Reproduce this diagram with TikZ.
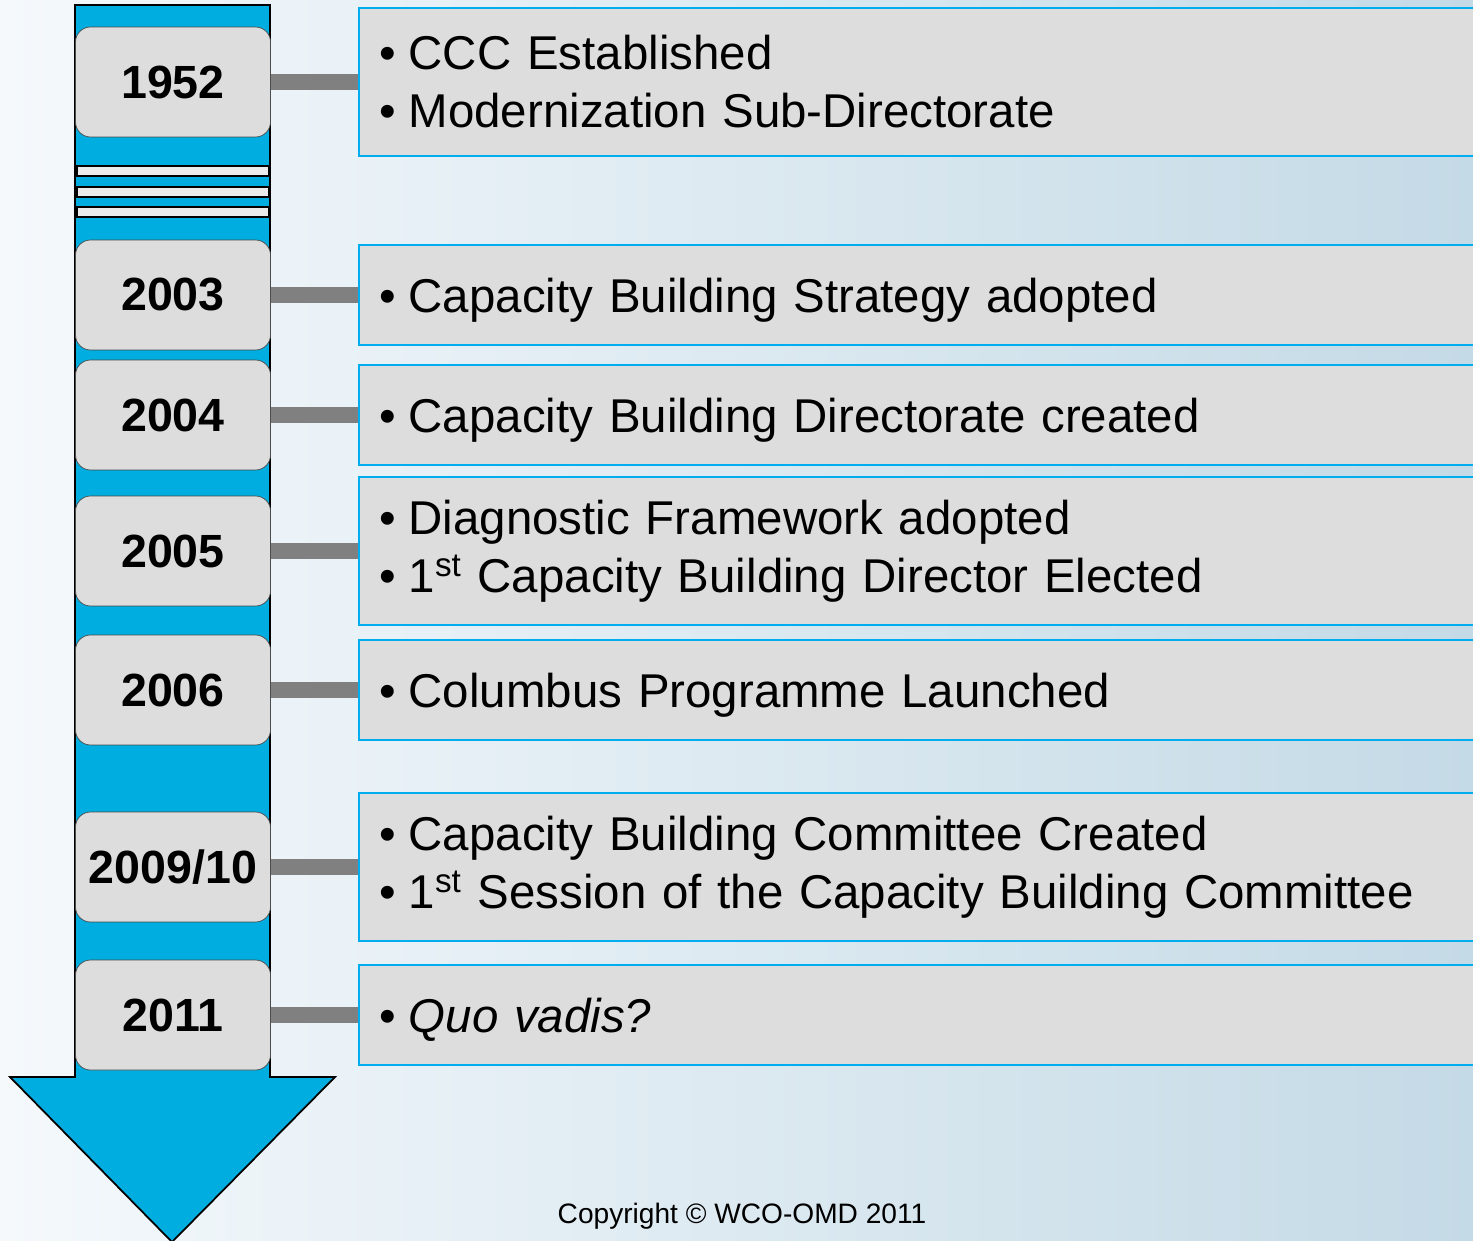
\documentclass[tikz,border=0pt]{standalone}
\usepackage{fontspec}
\setmainfont{Liberation Sans}
\usetikzlibrary{positioning}

\definecolor{shaftblue}{RGB}{0,173,224}
\definecolor{boxgray}{RGB}{221,221,221}
\definecolor{edgecyan}{RGB}{0,174,239}
\definecolor{linkgray}{RGB}{128,128,128}
\definecolor{bgleft}{RGB}{245,249,252}
\definecolor{bgright}{RGB}{196,218,230}

\newcommand{\bul}{\textbullet\hspace{0.26cm}}

\begin{document}
\begin{tikzpicture}[x=0.02cm, y=-0.02cm,
    year/.style={draw=black!70, rectangle, rounded corners=0.3cm, fill=boxgray, minimum width=3.9cm, minimum height=2.2cm, font=\fontsize{26.5}{30}\selectfont\bfseries},
    event/.style={draw=edgecyan, line width=1.5pt, rectangle, fill=boxgray, minimum width=23cm, text width=22.2cm, inner xsep=0.4cm, align=left, font=\fontsize{27}{33}\selectfont, right=1.74cm of #1},
    oneline/.style={minimum height=2cm, text depth=0pt},
    twoline/.style={minimum height=2.96cm},
    link/.style={draw=linkgray, line width=0.32cm},
    stripe/.style={draw=black, line width=0.8pt, fill=black!8}]
    \useasboundingbox (0,0) rectangle (1473,1240);
    \clip (0,0) rectangle (1473,1240);
    \shade[left color=bgleft, right color=bgright] (0,0) rectangle (1473,1240);

    % timeline arrow
    \draw[fill=shaftblue, line width=1pt] (75,5) -- (270,5) -- (270,1077) -- (335,1077) -- (172,1242) -- (10,1077) -- (75,1077) -- cycle;
    \draw[stripe] (77,166) rectangle (269,176);
    \draw[stripe] (77,187) rectangle (269,197);
    \draw[stripe] (77,207) rectangle (269,217);

    % years
    \node[year] (y1952) at (173,82) {1952};
    \node[year] (y2003) at (173,295) {2003};
    \node[year] (y2004) at (173,415) {2004};
    \node[year] (y2005) at (173,551) {2005};
    \node[year] (y2006) at (173,690) {2006};
    \node[year] (y2009) at (173,867) {2009/10};
    \node[year] (y2011) at (173,1015) {2011};

    % events
    \node[event=y1952, twoline] (e1952) {\bul CCC Established\\\bul Modernization Sub-Directorate};
    \node[event=y2003, oneline] (e2003) {\bul Capacity Building Strategy adopted};
    \node[event=y2004, oneline] (e2004) {\bul Capacity Building Directorate created};
    \node[event=y2005, twoline] (e2005) {\bul Diagnostic Framework adopted\\\bul 1\textsuperscript{st} Capacity Building Director Elected};
    \node[event=y2006, oneline] (e2006) {\bul Columbus Programme Launched};
    \node[event=y2009, twoline] (e2009) {\bul Capacity Building Committee Created\\\bul 1\textsuperscript{st} Session of the Capacity Building Committee};
    \node[event=y2011, oneline] (e2011) {\bul \textit{Quo vadis?}};

    \draw[link] (y1952) -- (e1952);
    \draw[link] (y2003) -- (e2003);
    \draw[link] (y2004) -- (e2004);
    \draw[link] (y2005) -- (e2005);
    \draw[link] (y2006) -- (e2006);
    \draw[link] (y2009) -- (e2009);
    \draw[link] (y2011) -- (e2011);

    \node[font=\fontsize{16}{19}\selectfont] (copy) at (742,1216) {Copyright \textcopyright{} WCO-OMD 2011};
\end{tikzpicture}
\end{document}
